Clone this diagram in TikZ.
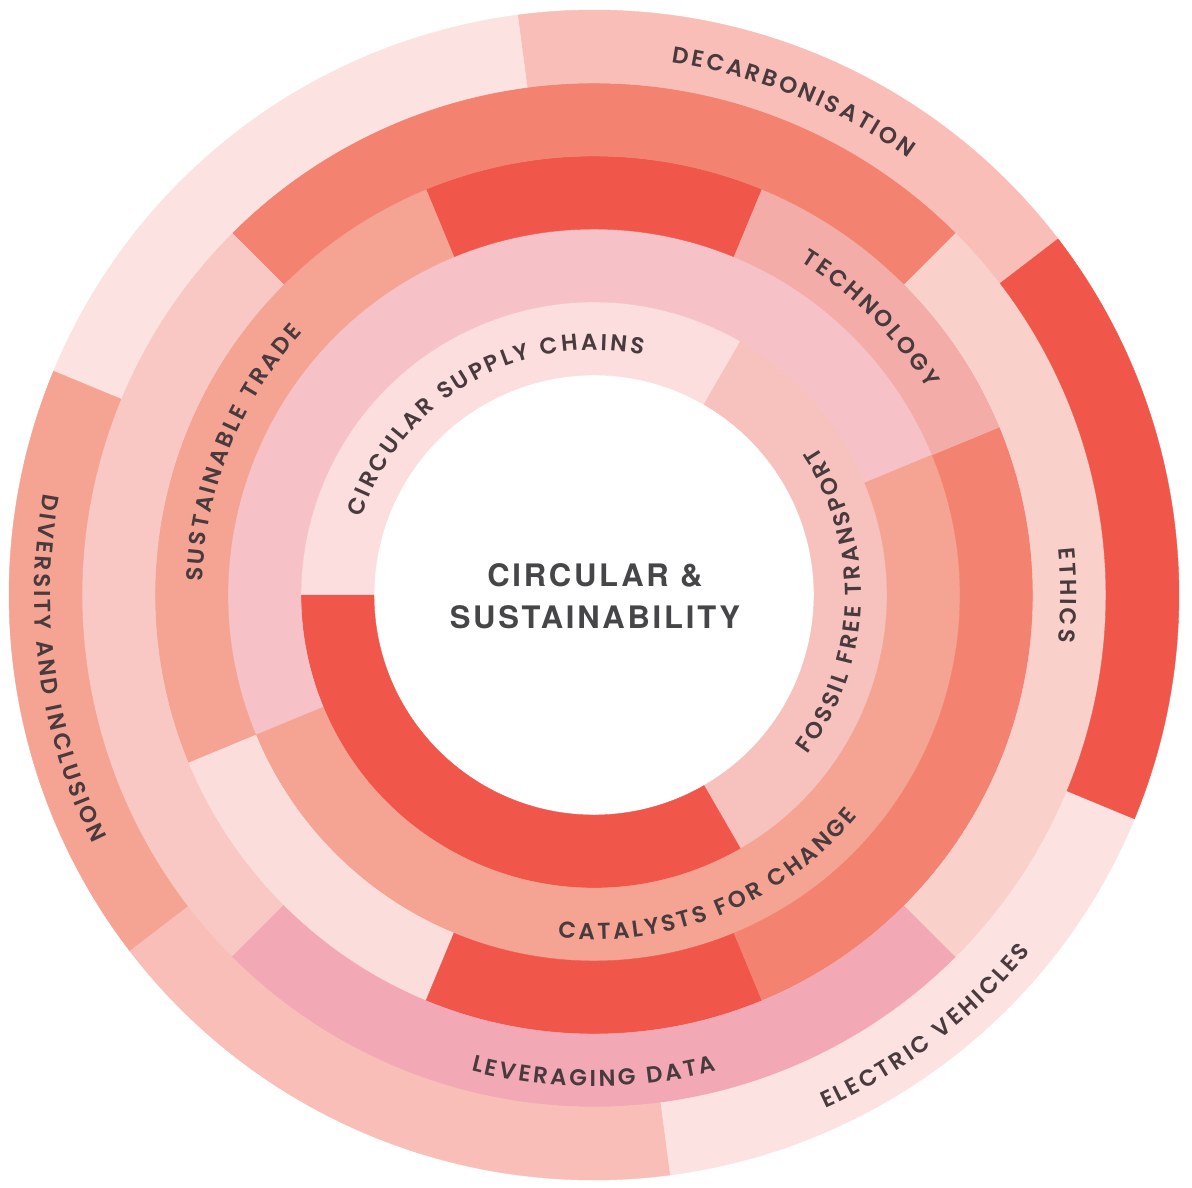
\documentclass[tikz,border=0pt]{standalone}
\usepackage{fontspec}
\IfFontExistsTF{Poppins SemiBold}{\newfontfamily\labelfont{Poppins SemiBold}}{%
  \IfFontExistsTF{Poppins Medium}{\newfontfamily\labelfont{Poppins Medium}}{\newfontfamily\labelfont{Poppins}}}
\newfontfamily\centerfont{TeX Gyre Heros}[LetterSpace=9]
\newcommand\lblfont{\labelfont\fontsize{23}{27}\selectfont}
\newdimen\arctrack \arctrack=2.8pt
\newdimen\arctot \newdimen\arcpos \newdimen\chw
\newcounter{chr}
\def\spmark{+}
% measure letter widths once, outside any picture
\newcommand\storewidth[2]{\setbox0\hbox{\lblfont #2}\ifdim\wd0<1pt\setbox0\hbox to 13pt{}\fi\expandafter\xdef\csname cw@#1\endcsname{\the\wd0}}
\AtBeginDocument{%
  \foreach \L in {A,B,C,D,E,F,G,H,I,J,K,L,M,N,O,P,Q,R,S,T,U,V,W,X,Y,Z}{\expandafter\storewidth\expandafter{\L}{\L}}%
  \storewidth{+}{\ }%
}
\newcommand\measurechar[1]{\chw=\csname cw@#1\endcsname\relax}
\definecolor{cRed}{RGB}{240,87,74}
\definecolor{cOrange}{RGB}{243,130,112}
\definecolor{cSalmon}{RGB}{245,163,147}
\definecolor{cPale}{RGB}{248,190,183}
\definecolor{cTech}{RGB}{244,172,168}
\definecolor{cLightL}{RGB}{249,200,197}
\definecolor{cLightR}{RGB}{250,208,203}
\definecolor{cPink}{RGB}{246,194,199}
\definecolor{cVeryLight}{RGB}{251,222,221}
\definecolor{cFossil}{RGB}{247,193,190}
\definecolor{cVeryLightB}{RGB}{251,222,219}
\definecolor{cFaint}{RGB}{252,226,225}
\definecolor{cData}{RGB}{243,169,181}
\definecolor{labelcol}{RGB}{72,58,61}
\definecolor{centercol}{RGB}{70,70,73}
% segment: colour, inner radius, outer radius, start angle, end angle
\newcommand\ringseg[5]{\filldraw[fill=#1,draw=#1,line width=0.4pt] (#4:#2) arc[start angle=#4, end angle=#5, radius=#2] -- (#5:#3) arc[start angle=#5, end angle=#4, radius=#3] -- cycle;}
% curved label: #1 baseline radius, #2 centre angle, #3 direction (1 clockwise, -1 anticlockwise), #4 comma list of letters (+ = space)
\newcommand\arclabel[4]{%
  \global\arctot=0pt
  \foreach \c in {#4}{\expandafter\measurechar\expandafter{\c}\global\advance\arctot by \chw\global\advance\arctot by \arctrack}%
  \global\advance\arctot by -\arctrack
  \global\arcpos=-0.5\arctot
  \foreach \c in {#4}{%
    \expandafter\measurechar\expandafter{\c}%
    \pgfmathsetmacro\arcang{#2-(#3)*deg((\arcpos+0.5*\chw)/#1)}%
    \ifx\c\spmark\else
      \stepcounter{chr}%
      \node[lblchar,rotate={\arcang-(#3)*90}] (ch\thechr) at (\arcang:#1) {\c};
    \fi
    \global\advance\arcpos by \chw
    \global\advance\arcpos by \arctrack
  }%
}
\begin{document}
\begin{tikzpicture}[x=1pt,y=1pt,
  lblchar/.style={font=\lblfont, text=labelcol, anchor=base, inner sep=0pt},
  centertxt/.style={font=\centerfont\bfseries\fontsize{31}{31}\selectfont, text=centercol, inner sep=0pt}]
\fill[white] (-594,-592) rectangle (598,595);
\useasboundingbox (-594,-592) rectangle (598,595);
% ring 1
\ringseg{cVeryLight}{220}{293}{60}{180}
\ringseg{cFossil}{220}{293}{-60}{60}
\ringseg{cRed}{220}{293}{180}{300}
% ring 2
\ringseg{cPink}{293}{366}{22.5}{202.5}
\ringseg{cSalmon}{293}{366}{-157.5}{22.5}
% ring 3
\ringseg{cRed}{366}{439}{67.5}{112.5}
\ringseg{cSalmon}{366}{439}{112.5}{202.5}
\ringseg{cVeryLightB}{366}{439}{202.5}{247.5}
\ringseg{cRed}{366}{439}{247.5}{292.5}
\ringseg{cOrange}{366}{439}{-67.5}{22.5}
\ringseg{cTech}{366}{439}{22.5}{67.5}
% ring 4
\ringseg{cOrange}{439}{512}{45}{135}
\ringseg{cLightL}{439}{512}{135}{225}
\ringseg{cData}{439}{512}{225}{315}
\ringseg{cLightR}{439}{512}{-45}{45}
% ring 5
\ringseg{cPale}{512}{585}{37.5}{97.5}
\ringseg{cFaint}{512}{585}{97.5}{157.5}
\ringseg{cSalmon}{512}{585}{157.5}{217.5}
\ringseg{cPale}{512}{585}{217.5}{277.5}
\ringseg{cFaint}{512}{585}{277.5}{337.5}
\ringseg{cRed}{512}{585}{-22.5}{37.5}
% labels
\arclabel{538}{68}{1}{D,E,C,A,R,B,O,N,I,S,A,T,I,O,N}
\arclabel{466.5}{0}{1}{E,T,H,I,C,S}
\arclabel{392}{45}{1}{T,E,C,H,N,O,L,O,G,Y}
\arclabel{392}{158}{1}{S,U,S,T,A,I,N,A,B,L,E,+,T,R,A,D,E}
\arclabel{245}{120}{1}{C,I,R,C,U,L,A,R,+,S,U,P,P,L,Y,+,C,H,A,I,N,S}
\arclabel{559.5}{188}{-1}{D,I,V,E,R,S,I,T,Y,+,A,N,D,+,I,N,C,L,U,S,I,O,N}
\arclabel{267}{-1.5}{-1}{F,O,S,S,I,L,+,F,R,E,E,+,T,R,A,N,S,P,O,R,T}
\arclabel{344.5}{-68}{-1}{C,A,T,A,L,Y,S,T,S,+,F,O,R,+,C,H,A,N,G,E}
\arclabel{491.5}{-90}{-1}{L,E,V,E,R,A,G,I,N,G,+,D,A,T,A}
\arclabel{563.5}{-52.5}{-1}{E,L,E,C,T,R,I,C,+,V,E,H,I,C,L,E,S}
% centre
\node[centertxt] (ctop) at (1,20) {CIRCULAR \&};
\node[centertxt] (cbot) at (1,-22.5) {SUSTAINABILITY};
\end{tikzpicture}
\end{document}
